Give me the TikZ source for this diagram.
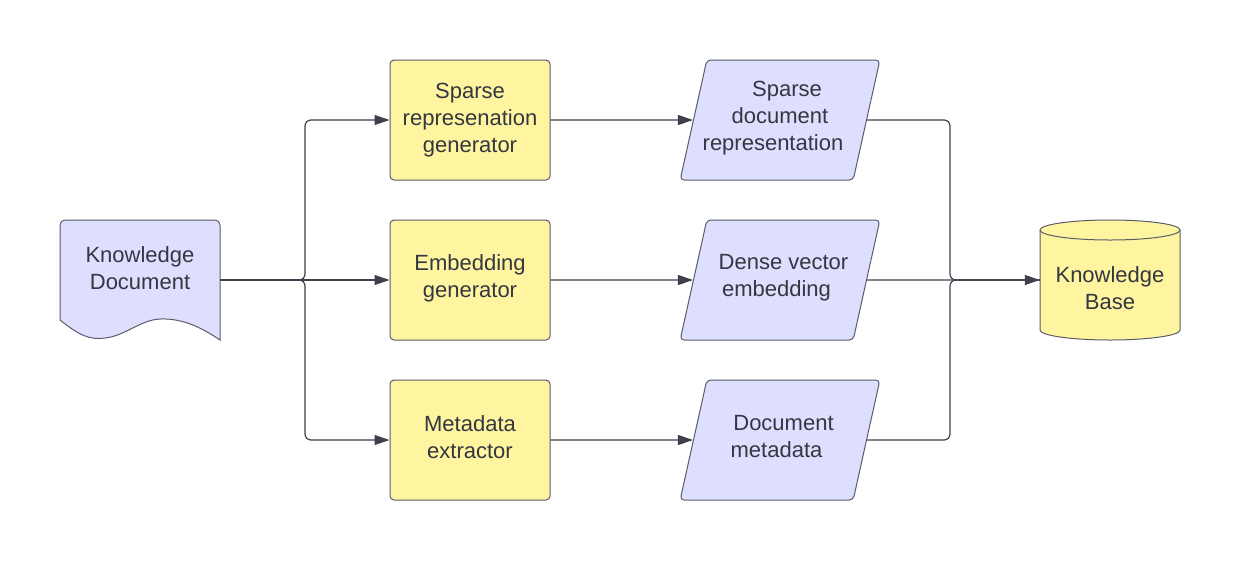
\documentclass[tikz,border=0pt]{standalone}
\usepackage{fontspec}
\setmainfont{Liberation Sans}
\usetikzlibrary{arrows.meta,shapes.geometric,calc}
\definecolor{yel}{RGB}{255,245,160}
\definecolor{lav}{RGB}{222,222,255}
\definecolor{bord}{RGB}{90,92,105}
\definecolor{conncol}{RGB}{60,65,76}
\definecolor{txt}{RGB}{51,55,64}
\tikzset{
  every node/.style={font=\fontsize{22}{27}\selectfont, text=txt, align=center},
  ybox/.style={draw=bord, fill=yel, line width=1pt, rounded corners=4pt, minimum width=160pt, minimum height=120pt, inner sep=0pt},
  pbox/.style={trapezium, trapezium left angle=76, trapezium right angle=104, trapezium stretches=true, draw=bord, fill=lav, line width=1pt, rounded corners=4pt, minimum width=200pt, minimum height=120pt, inner sep=0pt},
  ghost/.style={minimum width=#1, minimum height=120pt, inner sep=0pt},
  conn/.style={draw=conncol, line width=1.2pt, -{Triangle[length=15pt,width=10pt]}},
  plain/.style={draw=conncol, line width=1.2pt},
}
\begin{document}
\begin{tikzpicture}[x=1pt,y=-1pt]
\useasboundingbox (0,0) rectangle (1240,574);
% document shape
\draw[draw=bord, fill=lav, line width=1pt] (60,320) [rounded corners=5pt]-- (60,220) -- (220,220) [sharp corners]-- (220,340)
  .. controls (205,330) and (185,318) .. (160,319)
  .. controls (140,320) and (125,336) .. (105,338)
  .. controls (90,340) and (80,336) .. (60,320) -- cycle;
\node[ghost=160pt] (doc) at (140,280) {};
\node (doclbl) at (140,268) {Knowledge\\Document};
% knowledge base cylinder
\draw[draw=bord, fill=yel, line width=1pt] (1040,230) -- (1040,330)
  arc[start angle=180, end angle=360, x radius=70pt, y radius=10pt] -- (1180,230)
  arc[start angle=0, end angle=180, x radius=70pt, y radius=10pt] -- cycle;
\draw[draw=bord, line width=1pt] (1040,230) arc[start angle=180, end angle=360, x radius=70pt, y radius=10pt];
\node[ghost=140pt] (kb) at (1110,280) {};
\node (kblbl) at (1110,288) {Knowledge\\Base};
% generators
\node[ybox] (sg) at (470,120) {Sparse\\represenation\\generator};
\node[ybox] (eg) at (470,280) {};
\node[ybox] (me) at (470,440) {};
\node (eglbl) at (470,278) {Embedding\\generator};
\node (melbl) at (470,437) {Metadata\\extractor};
% outputs
\node[pbox] (sd) at (780,120) {\phantom{Xg}};
\node[pbox] (dv) at (780,280) {\phantom{Xg}};
\node[pbox] (dm) at (780,440) {\phantom{Xg}};
\node (sdlbl) at (780,118) {\hspace*{14pt}Sparse\\document\\representation\hspace*{14pt}};
\node (dvlbl) at (780,278) {\hspace*{7pt}Dense vector\\embedding\hspace*{7pt}};
\node (dmlbl) at (780,437) {\hspace*{7pt}Document\\metadata\hspace*{7pt}};
% junctions
\coordinate (jl) at (305,280);
\coordinate (jr) at (950,280);
% connectors left
\draw[conn] (doc.east) -- (eg.west);
\draw[conn, rounded corners=6pt] (doc.east) -| (jl |- sg.west) -- (sg.west);
\draw[conn, rounded corners=6pt] (doc.east) -| (jl |- me.west) -- (me.west);
% middle
\draw[conn] (sg.east) -- (sd.west);
\draw[conn] (eg.east) -- (dv.west);
\draw[conn] (me.east) -- (dm.west);
% right
\draw[conn] (dv.east) -- (kb.west);
\draw[plain, rounded corners=6pt] (sd.east) -| (jr) -- (kb.west);
\draw[plain, rounded corners=6pt] (dm.east) -| (jr) -- (kb.west);
\end{tikzpicture}
\end{document}
